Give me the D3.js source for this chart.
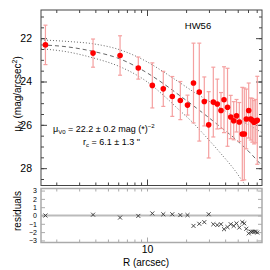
<!DOCTYPE html>
<html>
<head>
<meta charset="utf-8">
<script src="https://cdn.jsdelivr.net/npm/d3@7"></script>
<style>
  body { margin: 0; background: #fff; }
  svg { display: block; font-family: "Liberation Sans", Arial, sans-serif; }
</style>
</head>
<body>
<svg id="chart"></svg>
<script>
// profile points (R in arcsec, surface brightness in mag/arcsec^2)
const radius = [1.65, 3.84, 6.2, 8.57, 10.99, 13.35, 15.66, 18.06, 20.51, 22.81, 25.28, 27.63, 29.87, 32.42, 34.8, 37.16,
  39.2, 41.71, 44.14, 46.55, 48.93, 51.42, 54.23, 56.19, 58.21, 60.75, 62.94, 64.75, 66.73, 68.77, 70.74];
const mu = [22.31, 22.69, 22.8, 23.38, 24.18, 24.34, 24.69, 24.88, 25.09, 24.07, 24.49, 24.92, 26.0, 24.95, 25.04, 25.34,
  24.84, 25.19, 25.64, 25.81, 25.58, 25.87, 26.42, 26.42, 25.73, 25.34, 25.73, 25.79, 25.88, 25.83, 25.79];
const muErr = [0.91, 0.65, 0.91, 0.51, 1.04, 0.81, 0.92, 0.88, 0.46, 1.84, 2.26, 1.13, 1.53, 1.61, 1.15, 0.83,
  1.52, 1.8, 1.0, 0.88, 0.75, 0.9, 2.15, 2.12, 1.38, 1.27, 0.97, 1.01, 1.0, 1.0, 2.03];
const resid = [0.0, 0.1, -0.25, -0.05, 0.25, 0.15, 0.15, 0.05, 0.05, -1.25, -1.0, -0.8, 0.15, -1.05, -1.15, -1.05,
  -1.65, -1.4, -1.05, -1.25, -0.95, -1.45, -0.8, -0.95, -1.6, -2.15, -1.95, -1.95, -1.95, -1.95, -2.05];

// fitted profile and its limits
const fitR = [1.525, 2.42, 3.84, 6.2, 10, 13.76, 17.96, 22.22, 27.98, 36.5, 47.64, 62.16, 76.9];
const fitMu = [22.31, 22.4, 22.61, 22.96, 23.6, 24.15, 24.66, 25.07, 25.53, 26.08, 26.64, 27.29, 27.89];
const fitHi = [22.08, 22.15, 22.26, 22.54, 23.09, 23.6, 24.06, 24.43, 24.8, 25.21, 25.63, 26.04, 26.36];
const lowR = [1.525, 2.42, 3.84, 6.2, 10, 13.76, 17.96, 22.22, 27.98, 36.5, 47.64, 56.88, 62.16];
const fitLo = [22.49, 22.63, 22.91, 23.32, 24.01, 24.7, 25.35, 25.86, 26.5, 27.28, 28.11, 28.76, 29.04];

const yMajor = [22, 24, 26, 28];
const yMinor = d3.range(21, 28.75, 0.5);
const xMinor = [2, 3, 4, 5, 6, 7, 8, 9, 20, 30, 40, 50, 60, 70];
const resTicks = [-3, -2, -1, 0, 1, 2, 3];

const W = 270, H = 270;
const mLeft = 41, mRight = 262, mTop = 10, mBottom = 185.5, rTop = 188.5, rBottom = 242.5;

const svg = d3.select("#chart").attr("width", W).attr("height", H);

const x = d3.scaleLog().domain([1.525, 76.9]).range([mLeft, mRight]);
const y = d3.scaleLinear().domain([20.7, 28.8]).range([mTop, mBottom]);
const yr = d3.scaleLinear().domain([-3.25, 3.25]).range([rBottom, rTop]);

const axisColor = "#444";

svg.append("clipPath").attr("id", "clipMain")
  .append("rect").attr("x", mLeft).attr("y", mTop).attr("width", mRight - mLeft).attr("height", mBottom - mTop);

// ---- main panel ----
const main = svg.append("g");

function tickAxis(g, axis) {
  g.call(axis).call(g => g.select(".domain").remove());
  g.selectAll("line").attr("stroke", axisColor);
  g.selectAll("text").attr("fill", "#000");
}

main.append("g").attr("transform", `translate(${mLeft},0)`)
  .call(g => tickAxis(g, d3.axisLeft(y).tickValues(yMajor).tickSize(-6).tickPadding(9).tickFormat(d3.format("d"))))
  .call(g => g.selectAll("text").attr("font-size", 10.5));
main.append("g").attr("transform", `translate(${mLeft},0)`)
  .call(g => tickAxis(g, d3.axisLeft(y).tickValues(yMinor).tickSize(-3).tickFormat("")));
main.append("g").attr("transform", `translate(${mRight},0)`)
  .call(g => tickAxis(g, d3.axisRight(y).tickValues(yMajor).tickSize(-6).tickFormat("")));
main.append("g").attr("transform", `translate(${mRight},0)`)
  .call(g => tickAxis(g, d3.axisRight(y).tickValues(yMinor).tickSize(-3).tickFormat("")));
main.append("g").attr("transform", `translate(0,${mTop})`)
  .call(g => tickAxis(g, d3.axisTop(x).tickValues([10]).tickSize(-6).tickFormat("")));
main.append("g").attr("transform", `translate(0,${mTop})`)
  .call(g => tickAxis(g, d3.axisTop(x).tickValues(xMinor).tickSize(-3).tickFormat("")));
main.append("g").attr("transform", `translate(0,${mBottom})`)
  .call(g => tickAxis(g, d3.axisBottom(x).tickValues([10]).tickSize(-6).tickFormat("")));
main.append("g").attr("transform", `translate(0,${mBottom})`)
  .call(g => tickAxis(g, d3.axisBottom(x).tickValues(xMinor).tickSize(-3).tickFormat("")));

main.append("rect").attr("x", mLeft).attr("y", mTop).attr("width", mRight - mLeft).attr("height", mBottom - mTop)
  .attr("fill", "none").attr("stroke", axisColor).attr("stroke-width", 1);

// model curves
const line = d3.line().curve(d3.curveMonotoneX);
const curves = main.append("g").attr("clip-path", "url(#clipMain)").attr("fill", "none").attr("stroke", "#666");
curves.append("path").attr("d", line(fitR.map((r, i) => [x(r), y(fitHi[i])])))
  .attr("stroke-dasharray", "1,2").attr("stroke-width", 1);
curves.append("path").attr("d", line(lowR.map((r, i) => [x(r), y(fitLo[i])])))
  .attr("stroke-dasharray", "1,2").attr("stroke-width", 1);
curves.append("path").attr("d", line(fitR.map((r, i) => [x(r), y(fitMu[i])])))
  .attr("stroke-dasharray", "4,3").attr("stroke-width", 1);

// error bars
const err = main.append("g").attr("stroke", "#f5a0a0").attr("stroke-width", 1.2);
radius.forEach((r, i) => {
  const cx = x(r), y0 = y(mu[i] - muErr[i]), y1 = y(mu[i] + muErr[i]);
  err.append("line").attr("x1", cx).attr("x2", cx).attr("y1", y0).attr("y2", y1);
  err.append("line").attr("x1", cx - 2).attr("x2", cx + 2).attr("y1", y0).attr("y2", y0);
  err.append("line").attr("x1", cx - 2).attr("x2", cx + 2).attr("y1", y1).attr("y2", y1);
});

main.append("g").selectAll("circle").data(radius).join("circle")
  .attr("cx", d => x(d)).attr("cy", (d, i) => y(mu[i])).attr("r", 2.8).attr("fill", "#ff0000");

main.append("text").attr("x", 198).attr("y", 29).attr("text-anchor", "middle").attr("font-size", 9.5).text("HW56");

const t1 = main.append("text").attr("x", 53).attr("y", 132).attr("font-size", 9);
t1.append("tspan").text("μ");
t1.append("tspan").attr("font-size", 6).attr("dy", 2).text("V0");
t1.append("tspan").attr("dy", -2).text(" = 22.2 ± 0.2 mag (*)");
t1.append("tspan").attr("font-size", 6).attr("dy", -4).text("−2");

const t2 = main.append("text").attr("x", 83).attr("y", 145).attr("font-size", 9);
t2.append("tspan").text("r");
t2.append("tspan").attr("font-size", 6).attr("dy", 2).text("c");
t2.append("tspan").attr("dy", -2).text(" =  6.1 ± 1.3 \"");

const yl = svg.append("text").attr("transform", "translate(21,94) rotate(-90)")
  .attr("text-anchor", "middle").attr("font-size", 10);
yl.append("tspan").text("μ");
yl.append("tspan").attr("font-size", 7).attr("dy", 2).text("V");
yl.append("tspan").attr("dy", -2).text(" (mag/arcsec");
yl.append("tspan").attr("font-size", 7).attr("dy", -4).text("2");
yl.append("tspan").attr("dy", 4).text(")");

// ---- residual panel ----
const res = svg.append("g");
const resColor = "#aaa";

res.append("line").attr("x1", mLeft).attr("x2", mRight).attr("y1", yr(0)).attr("y2", yr(0))
  .attr("stroke", "#bbb").attr("stroke-width", 2);

res.append("g").attr("transform", `translate(${mLeft},0)`)
  .call(g => g.call(d3.axisLeft(yr).tickValues(resTicks).tickSize(-4).tickPadding(4).tickFormat(d3.format("d")))
    .call(g => g.select(".domain").remove()))
  .call(g => g.selectAll("line").attr("stroke", resColor))
  .call(g => g.selectAll("text").attr("font-size", 7).attr("fill", "#000"));
res.append("g").attr("transform", `translate(${mRight},0)`)
  .call(g => g.call(d3.axisRight(yr).tickValues(resTicks).tickSize(-4).tickFormat(""))
    .call(g => g.select(".domain").remove()))
  .call(g => g.selectAll("line").attr("stroke", resColor));
res.append("g").attr("transform", `translate(0,${rTop})`)
  .call(g => g.call(d3.axisTop(x).tickValues(xMinor.concat([10])).tickSize(-3).tickFormat(""))
    .call(g => g.select(".domain").remove()))
  .call(g => g.selectAll("line").attr("stroke", resColor));
res.append("g").attr("transform", `translate(0,${rBottom})`)
  .call(g => g.call(d3.axisBottom(x).tickValues(xMinor).tickSize(-3).tickFormat(""))
    .call(g => g.select(".domain").remove()))
  .call(g => g.selectAll("line").attr("stroke", resColor));
res.append("g").attr("transform", `translate(0,${rBottom})`)
  .call(g => g.call(d3.axisBottom(x).tickValues([10]).tickSize(-5).tickPadding(3).tickFormat(d3.format("d")))
    .call(g => g.select(".domain").remove()))
  .call(g => g.selectAll("line").attr("stroke", resColor))
  .call(g => g.selectAll("text").attr("font-size", 10.5).attr("fill", "#000"));

res.append("rect").attr("x", mLeft).attr("y", rTop).attr("width", mRight - mLeft).attr("height", rBottom - rTop)
  .attr("fill", "none").attr("stroke", resColor).attr("stroke-width", 1.5);

const cross = d3.symbol().type(d3.symbolX).size(12);
res.append("g").selectAll("path").data(radius).join("path")
  .attr("transform", (d, i) => `translate(${x(d)},${yr(resid[i])})`)
  .attr("d", cross).attr("fill", "none").attr("stroke", "#333").attr("stroke-width", 0.9);

svg.append("text").attr("transform", "translate(21,211) rotate(-90)")
  .attr("text-anchor", "middle").attr("font-size", 10).text("residuals");

svg.append("text").attr("x", 146).attr("y", 266).attr("text-anchor", "middle").attr("font-size", 10).text("R (arcsec)");
</script>
</body>
</html>
